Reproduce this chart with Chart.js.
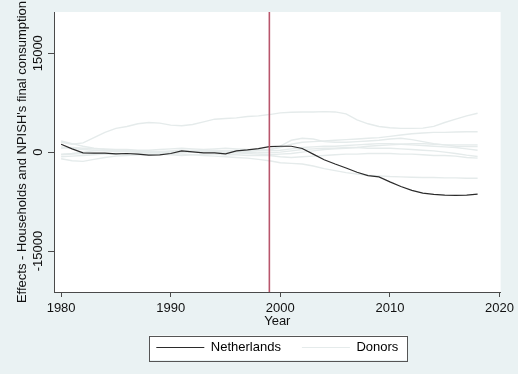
<!DOCTYPE html>
<html>
<head>
<meta charset="utf-8">
<script src="https://cdn.jsdelivr.net/npm/chart.js@4.4.1/dist/chart.umd.min.js"></script>
<style>
  html, body { margin: 0; padding: 0; background: #eaf2f3; }
  #wrap { width: 518px; height: 374px; }
</style>
</head>
<body>
<div id="wrap"><canvas id="chart" width="518" height="374"></canvas></div>
<script>
const years = [1980, 1981, 1982, 1983, 1984, 1985, 1986, 1987, 1988, 1989,
  1990, 1991, 1992, 1993, 1994, 1995, 1996, 1997, 1998, 1999,
  2000, 2001, 2002, 2003, 2004, 2005, 2006, 2007, 2008, 2009,
  2010, 2011, 2012, 2013, 2014, 2015, 2016, 2017, 2018];

// treated unit
const netherlands = [1200, 500, -100, -150, -150, -250, -200, -300, -450, -400,
  -200, 200, 50, -100, -100, -250, 200, 350, 550, 850,
  900, 900, 550, -300, -1150, -1800, -2400, -3050, -3550, -3750,
  -4500, -5200, -5800, -6200, -6400, -6500, -6550, -6500, -6350];

// placebo runs for the donor pool
const donor1 = [1500, 1200, 1400, 2200, 3000, 3600, 3900, 4300, 4500, 4400,
  4100, 4000, 4200, 4600, 5000, 5100, 5200, 5400, 5500, 5700,
  5950, 6050, 6100, 6100, 6150, 6100, 5800, 4900, 4300, 3900,
  3700, 3600, 3600, 3650, 3900, 4500, 5000, 5500, 5900];
const donor2 = [800, 600, 400, 300, 200, 100, 150, 200, 100, 0,
  100, 200, 300, 200, 100, 200, 300, 300, 350, 400,
  700, 1200, 1500, 1600, 1700, 1800, 1900, 2000, 2100, 2200,
  2400, 2600, 2800, 2900, 3000, 3000, 3050, 3100, 3100];
const donor3 = [-300, -200, 0, 200, 300, 250, 200, 100, 0, -100,
  0, 100, 200, 250, 300, 200, 100, 150, 200, 300,
  900, 1800, 2100, 2000, 1600, 1500, 1500, 1600, 1700, 1800,
  2000, 2100, 1900, 1600, 1300, 1100, 900, 850, 850];
const donor4 = [1700, 1300, 900, 600, 400, 300, 200, 200, 100, 100,
  200, 300, 200, 100, 0, -100, -100, 0, -100, -100,
  0, 200, 400, 500, 600, 600, 700, 700, 600, 600,
  600, 500, 400, 300, 200, 0, -200, -450, -650];
const donor5 = [-1000, -1300, -1400, -1100, -800, -600, -500, -400, -400, -300,
  -400, -500, -400, -300, -300, -400, -400, -500, -500, -500,
  -700, -800, -700, -600, -500, -400, -300, -300, -200, -200,
  -200, -300, -300, -400, -500, -500, -600, -800, -900];
const donor6 = [-400, -300, -200, -200, -300, -300, -200, -200, -300, -300,
  -200, -300, -400, -500, -600, -700, -800, -900, -1100, -1300,
  -1600, -1700, -1800, -2100, -2500, -2800, -3100, -3300, -3500, -3600,
  -3700, -3750, -3800, -3850, -3850, -3900, -3900, -3950, -3950];
const donor7 = [600, 700, 600, 500, 500, 400, 400, 300, 300, 400,
  500, 600, 500, 400, 500, 600, 500, 400, 300, 200,
  300, 500, 700, 800, 900, 900, 1000, 1100, 1200, 1300,
  1300, 1200, 1100, 1000, 900, 800, 700, 500, 300];
const donor8 = [-700, -600, -500, -400, -300, -200, -200, -100, -100, 0,
  -100, -100, 0, 100, 100, 0, -100, -200, -300, -400,
  -300, -200, 0, 200, 400, 500, 600, 700, 900, 1000,
  1100, 1200, 1300, 1300, 1200, 1100, 1100, 1100, 1100];
const donors = [donor1, donor2, donor3, donor4, donor5, donor6, donor7, donor8];

const seriesNames = ['Netherlands', 'Donors'];
const treatYear = 1999;
const xTicks = [1980, 1990, 2000, 2010, 2020];
const yTicks = [-15000, 0, 15000];
const yTickLabels = ['-15000', '0', '15000'];
const yTitle = "Effects - Households and NPISH's final consumption";
const xTitle = 'Year';

const nlColor = '#2b2b2b';
const donorColor = '#e5ebeb';
const axisColor = '#4a4a4a';
const textColor = '#111111';
const fontFamily = "'Liberation Sans', Arial, sans-serif";

Chart.defaults.font.family = fontFamily;
Chart.defaults.font.size = 13;
Chart.defaults.color = textColor;

function toPoints(vals) {
  return years.map((yr, i) => ({ x: yr, y: vals[i] }));
}

// white plot region, light page colour, framed legend
const backdrop = {
  id: 'backdrop',
  beforeDraw(chart) {
    const { ctx, chartArea: a } = chart;
    ctx.save();
    ctx.fillStyle = '#eaf2f3';
    ctx.fillRect(0, 0, chart.width, chart.height);
    ctx.fillStyle = '#ffffff';
    ctx.fillRect(a.left, a.top, a.right - a.left, a.bottom - a.top);

    const hb = chart.legend.legendHitBoxes;
    if (hb && hb.length) {
      const l = Math.min(...hb.map(b => b.left)) - 7;
      const r = Math.max(...hb.map(b => b.left + b.width)) + 9;
      const t = hb[0].top - 5.5;
      const b = hb[0].top + hb[0].height + 6;
      ctx.fillStyle = '#ffffff';
      ctx.fillRect(l, t, r - l, b - t);
      ctx.strokeStyle = '#555555';
      ctx.lineWidth = 1;
      ctx.strokeRect(Math.round(l) + 0.5, Math.round(t) + 0.5, Math.round(r - l), Math.round(b - t));
    }
    ctx.restore();
  }
};

// treatment year marker
const treatLine = {
  id: 'treatLine',
  afterDatasetsDraw(chart) {
    const { ctx, chartArea: a } = chart;
    const x = chart.scales.x.getPixelForValue(treatYear);
    ctx.save();
    ctx.strokeStyle = '#b9566c';
    ctx.lineWidth = 1.6;
    ctx.beginPath();
    ctx.moveTo(x, a.top);
    ctx.lineTo(x, a.bottom);
    ctx.stroke();
    ctx.restore();
  }
};

// vertical tick labels on the y axis
const yLabels = {
  id: 'yLabels',
  afterDraw(chart) {
    const { ctx } = chart;
    const ys = chart.scales.y;
    ctx.save();
    ctx.fillStyle = textColor;
    ctx.font = '13px ' + fontFamily;
    ctx.textAlign = 'center';
    ctx.textBaseline = 'middle';
    yTicks.forEach((v, i) => {
      const py = ys.getPixelForValue(v);
      ctx.save();
      ctx.translate(38, py);
      ctx.rotate(-Math.PI / 2);
      ctx.fillText(yTickLabels[i], 0, 0);
      ctx.restore();
    });
    ctx.restore();
  }
};

const datasets = [{
  label: seriesNames[0],
  data: toPoints(netherlands),
  borderColor: nlColor,
  borderWidth: 1.2,
  pointRadius: 0,
  tension: 0,
  fill: false
}];
donors.forEach((d, i) => {
  datasets.push({
    label: seriesNames[1] + ' ' + (i + 1),
    data: toPoints(d),
    borderColor: donorColor,
    borderWidth: 1.4,
    pointRadius: 0,
    tension: 0,
    fill: false
  });
});

new Chart(document.getElementById('chart'), {
  type: 'line',
  data: { datasets },
  options: {
    responsive: false,
    animation: false,
    devicePixelRatio: 1,
    layout: { padding: { left: 0, right: 8, top: 12, bottom: 10 } },
    plugins: {
      tooltip: { enabled: false },
      legend: {
        position: 'bottom',
        fullSize: false,
        labels: {
          boxWidth: 48,
          boxHeight: 1.2,
          padding: 21,
          color: textColor,
          font: { size: 13 },
          generateLabels: () => [
            { text: seriesNames[0], fillStyle: nlColor, strokeStyle: nlColor, lineWidth: 0, hidden: false, datasetIndex: 0 },
            { text: seriesNames[1], fillStyle: donorColor, strokeStyle: donorColor, lineWidth: 0, hidden: false, datasetIndex: 1 }
          ]
        }
      }
    },
    scales: {
      x: {
        type: 'linear',
        min: 1979.35,
        max: 2020.1,
        afterBuildTicks: s => { s.ticks = xTicks.map(v => ({ value: v })); },
        afterFit: s => { s.height = 28; },
        grid: { display: true, drawOnChartArea: false, tickLength: 5, color: axisColor },
        border: { color: axisColor, width: 1 },
        ticks: { color: textColor, padding: 4, maxRotation: 0, autoSkip: false, callback: v => String(v) },
        title: { display: true, text: xTitle, color: textColor, font: { size: 13 }, padding: { top: 0, bottom: -9 } }
      },
      y: {
        min: -21200,
        max: 21250,
        afterBuildTicks: s => { s.ticks = yTicks.map(v => ({ value: v })); },
        afterFit: s => { s.width = 54; },
        grid: { display: true, drawOnChartArea: false, tickLength: 6, color: axisColor },
        border: { color: axisColor, width: 1 },
        ticks: { display: false },
        title: { display: true, text: yTitle, color: textColor, font: { size: 13 }, padding: { top: 15, bottom: 0 } }
      }
    }
  },
  plugins: [backdrop, treatLine, yLabels]
});
</script>
</body>
</html>
